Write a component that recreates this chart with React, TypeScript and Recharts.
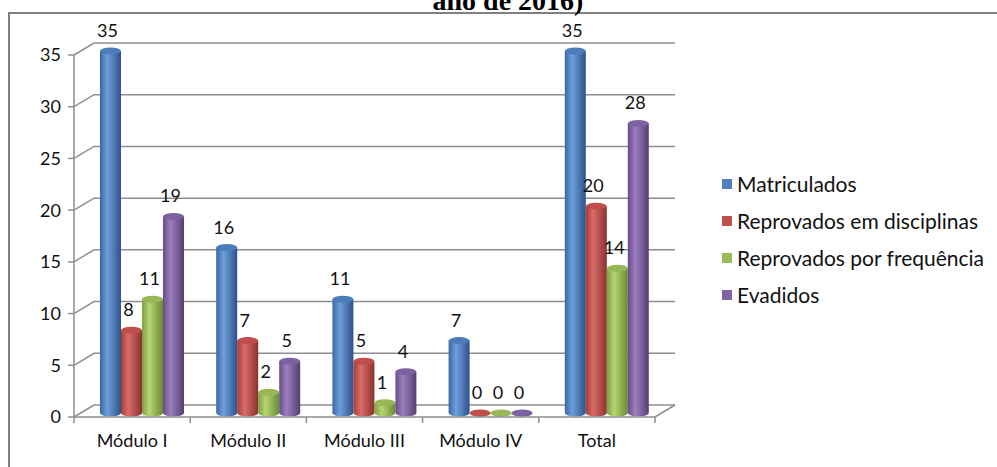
import { BarChart, Bar, XAxis, YAxis, CartesianGrid, Legend, LabelList } from 'recharts'

const categories = ['Módulo I', 'Módulo II', 'Módulo III', 'Módulo IV', 'Total']
const matriculados = [35, 16, 11, 7, 35]
const reprovadosDisciplinas = [8, 7, 5, 0, 20]
const reprovadosFrequencia = [11, 2, 1, 0, 14]
const evadidos = [19, 5, 4, 0, 28]
const yTicks = [0, 5, 10, 15, 20, 25, 30, 35]

const series = [
  { key: 'mat', name: 'Matriculados', values: matriculados, color: '#4F81BD', stops: ['#3A67A0', '#6E9FDC', '#2C528A'], top: '#4C7DBA' },
  { key: 'dis', name: 'Reprovados em disciplinas', values: reprovadosDisciplinas, color: '#C0504D', stops: ['#A33E3B', '#DA6D6A', '#8B312E'], top: '#BF4D4A' },
  { key: 'fre', name: 'Reprovados por frequência', values: reprovadosFrequencia, color: '#9BBB59', stops: ['#7E9F42', '#B6D671', '#6B8934'], top: '#98B855' },
  { key: 'eva', name: 'Evadidos', values: evadidos, color: '#8064A2', stops: ['#664C87', '#9C80BF', '#553E72'], top: '#7D61A0' }
]

const data = categories.map((name, i) => {
  const row: Record<string, string | number> = { name }
  series.forEach(s => {
    row[s.key] = s.values[i]
  })
  return row
})

// 3D depth offsets (front plane -> back wall / bar plane)
const DEPTH_X = 20
const DEPTH_Y = 12
const BAR_DX = 10
const BAR_DY = -4
const FONT = 'Lato, "Open Sans", sans-serif'
const GRID = '#8E8E8E'

const makeCylinder = (s: (typeof series)[number]) => (props: any) => {
  const { x, y, width, height } = props
  const x0 = x + BAR_DX
  const x1 = x0 + width
  const top = y + BAR_DY
  const bot = y + height + BAR_DY
  const rx = width / 2
  const ry = 3.5
  return (
    <g>
      <path
        d={`M${x0},${top} L${x0},${bot} A${rx},${ry} 0 0 0 ${x1},${bot} L${x1},${top} Z`}
        fill={`url(#grad-${s.key})`}
      />
      <ellipse cx={x0 + rx} cy={top} rx={rx} ry={ry} fill={s.top} />
    </g>
  )
}

const valueLabel = (props: any) => {
  const { x, y, width, value } = props
  return (
    <text
      x={x + width / 2 + BAR_DX - 3}
      y={y + BAR_DY - 14}
      textAnchor='middle'
      fontFamily={FONT}
      fontSize={18}
      fill='#111'
    >
      {value}
    </text>
  )
}

const gridLine = (props: any) => {
  const { x1, x2, y1 } = props
  return (
    <polyline
      key={props.key}
      points={`${x1},${y1} ${x1 + DEPTH_X},${y1 - DEPTH_Y} ${x2 + DEPTH_X},${y1 - DEPTH_Y}`}
      fill='none'
      stroke={GRID}
      strokeWidth={1.5}
    />
  )
}

const CategoryTick = (props: any) => {
  const { x, y, payload, index } = props
  const half = payload.offset || 0
  const axisY = y - 8
  const last = index === categories.length - 1
  return (
    <g>
      <line x1={x - half} y1={axisY} x2={x - half} y2={axisY + 6} stroke={GRID} strokeWidth={1.5} />
      {last && (
        <>
          <line x1={x + half} y1={axisY} x2={x + half} y2={axisY + 6} stroke={GRID} strokeWidth={1.5} />
          <line x1={x + half} y1={axisY} x2={x + half + DEPTH_X} y2={axisY - DEPTH_Y} stroke={GRID} strokeWidth={1.5} />
        </>
      )}
      <text x={x} y={y + 22} textAnchor='middle' fontFamily={FONT} fontSize={18} fill='#111'>
        {payload.value}
      </text>
    </g>
  )
}

const LegendBox = () => (
  <div style={{ fontFamily: FONT, fontSize: 21, color: '#111' }}>
    {series.map(s => (
      <div key={s.key} style={{ display: 'flex', alignItems: 'center', height: 37 }}>
        <span style={{ width: 10, height: 10, background: s.color, marginRight: 5 }} />
        <span>{s.name}</span>
      </div>
    ))}
  </div>
)

export default function App() {
  return (
    <div style={{ position: 'absolute', left: 0, top: 0, width: 997, height: 467, overflow: 'hidden', background: '#fff' }}>
      <div
        style={{
          position: 'absolute',
          left: 8,
          top: 12,
          width: 1100,
          height: 600,
          borderTop: '2px solid #808080',
          borderLeft: '2px solid #808080'
        }}
      />
      <svg width={997} height={40} style={{ position: 'absolute', left: 0, top: 0 }}>
        <text x={508} y={10} textAnchor='middle' fontFamily='"Liberation Serif", serif' fontWeight='bold' fontSize={28} fill='#000'>
          ano de 2016)
        </text>
      </svg>
      <div style={{ position: 'absolute', left: 0, top: 0 }}>
        <BarChart
          width={997}
          height={467}
          data={data}
          margin={{ top: 55, right: 342, bottom: 0, left: 0 }}
          barSize={21}
          barGap={0}
        >
          <defs>
            {series.map(s => (
              <linearGradient key={s.key} id={`grad-${s.key}`} x1='0' y1='0' x2='1' y2='0'>
                <stop offset='0%' stopColor={s.stops[0]} />
                <stop offset='35%' stopColor={s.stops[1]} />
                <stop offset='100%' stopColor={s.stops[2]} />
              </linearGradient>
            ))}
          </defs>
          <CartesianGrid vertical={false} horizontal={gridLine} />
          <XAxis
            dataKey='name'
            height={50}
            axisLine={{ stroke: GRID, strokeWidth: 1.5 }}
            tickLine={false}
            tickSize={6}
            tickMargin={2}
            interval={0}
            tick={<CategoryTick />}
          />
          <YAxis
            width={74}
            domain={[0, 35]}
            ticks={yTicks}
            interval={0}
            axisLine={{ stroke: GRID, strokeWidth: 1.5 }}
            tickLine={{ stroke: GRID, strokeWidth: 1.5 }}
            tickSize={6}
            tickMargin={7}
            tick={{ fontFamily: FONT, fontSize: 18, fill: '#111' }}
          />
          <Legend
            layout='vertical'
            align='center'
            verticalAlign='middle'
            content={<LegendBox />}
            wrapperStyle={{ left: 722, top: 165, width: 275 }}
          />
          {series.map(s => (
            <Bar key={s.key} dataKey={s.key} name={s.name} fill={s.color} shape={makeCylinder(s)} isAnimationActive={false}>
              <LabelList dataKey={s.key} content={valueLabel} />
            </Bar>
          ))}
        </BarChart>
      </div>
    </div>
  )
}
